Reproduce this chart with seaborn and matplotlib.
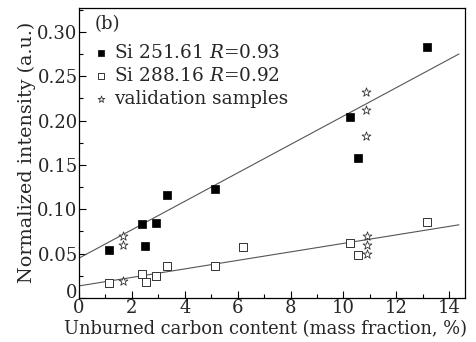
import numpy as np
import pandas as pd
import matplotlib
matplotlib.use("Agg")
import matplotlib.pyplot as plt
import seaborn as sns
from matplotlib.ticker import MultipleLocator, FuncFormatter

# ---- data ----
si251_x = [1.14, 2.37, 2.51, 2.90, 3.32, 5.14, 10.24, 10.56, 13.17]
si251_y = [0.054, 0.0835, 0.059, 0.084, 0.116, 0.123, 0.204, 0.158, 0.2825]
si288_x = [1.15, 2.39, 2.52, 2.93, 3.33, 5.14, 6.22, 10.24, 10.57, 13.17]
si288_y = [0.0165, 0.027, 0.018, 0.025, 0.036, 0.036, 0.057, 0.062, 0.048, 0.085]
valid_x = [1.68, 1.68, 1.68, 10.89, 10.89, 10.89, 10.87, 10.87, 10.87]
valid_y = [0.070, 0.060, 0.0195, 0.070, 0.060, 0.050, 0.232, 0.212, 0.182]
fit_x = [0.0, 14.37]
fit251_y = [0.0448, 0.275]
fit288_y = [0.0135, 0.0824]

label251 = "Si 251.61 $R$=0.93"
label288 = "Si 288.16 $R$=0.92"
label_valid = "validation samples"

sns.set_theme(style="ticks")
plt.rcParams["font.family"] = ["DejaVu Serif"]
plt.rcParams["mathtext.fontset"] = "dejavuserif"

fig = plt.figure(figsize=(4.76, 3.42), dpi=100)
ax = fig.add_axes([0.166, 0.129, 0.811, 0.848])

fs = 13
sns.lineplot(x=fit_x, y=fit251_y, ax=ax, color="#555555", lw=0.8)
sns.lineplot(x=fit_x, y=fit288_y, ax=ax, color="#555555", lw=0.8)

sns.scatterplot(x=si251_x, y=si251_y, ax=ax, marker="s", s=36, color="black",
                edgecolor="black", linewidth=0.5, label=label251, zorder=3)
sns.scatterplot(x=si288_x, y=si288_y, ax=ax, marker="s", s=28, facecolor="white",
                edgecolor="#333333", linewidth=0.7, label=label288, zorder=3)
sns.scatterplot(x=valid_x, y=valid_y, ax=ax, marker="*", s=45, facecolor="white",
                edgecolor="#333333", linewidth=0.6, label=label_valid, zorder=3)

ax.set_xlim(0, 14.6)
ax.set_ylim(0, 0.327)
ax.xaxis.set_major_locator(MultipleLocator(2))
ax.xaxis.set_minor_locator(MultipleLocator(1))
ax.yaxis.set_major_locator(MultipleLocator(0.05))
ax.yaxis.set_minor_locator(MultipleLocator(0.025))
ax.yaxis.set_major_formatter(FuncFormatter(lambda v, p: "0" if abs(v) < 1e-9 else f"{v:.2f}"))
ax.xaxis.set_major_formatter(FuncFormatter(lambda v, p: f"{v:.0f}"))
ax.tick_params(which="both", direction="in", top=False, right=False, labelsize=fs,
               color="black", pad=1)
ax.tick_params(which="major", length=5, width=0.8)
ax.tick_params(which="minor", length=3, width=0.8)
for sp in ax.spines.values():
    sp.set_visible(True)
    sp.set_color("black")
    sp.set_linewidth(0.9)

ax.set_xlabel("Unburned carbon content (mass fraction, %)", fontsize=12.9)
ax.xaxis.set_label_coords(0.484, -0.075)
ax.set_ylabel("Normalized intensity (a.u.)", fontsize=13.8, labelpad=1)

ax.text(0.04, 0.975, "(b)", transform=ax.transAxes, fontsize=fs, va="top", ha="left")
leg = ax.legend(loc="upper left", bbox_to_anchor=(0.0, 0.915), frameon=False,
                fontsize=13.3, handletextpad=0.1, labelspacing=0.28, borderaxespad=0.2,
                handlelength=1.2, markerscale=0.75)

# lift the y-axis "0" label slightly, as in the reference
fig.canvas.draw()
for tk in ax.yaxis.get_major_ticks():
    if abs(tk.get_loc()) < 1e-9:
        tk.label1.set_va("baseline")

fig.savefig("out.png", dpi=100)
